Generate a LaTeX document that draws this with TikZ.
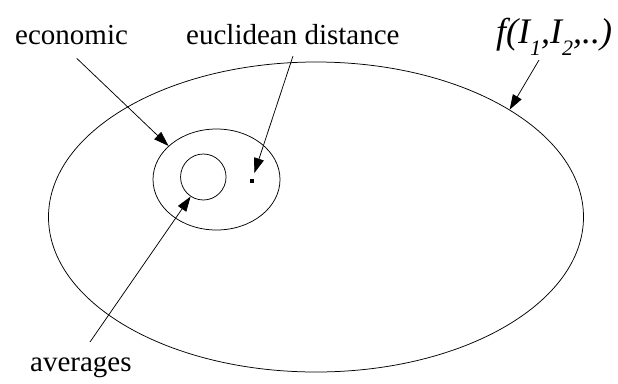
\documentclass[tikz,border=0pt]{standalone}
\usepackage{fontspec}
\setmainfont{Liberation Serif}
\usetikzlibrary{arrows.meta,shapes.geometric}
\begin{document}
\begin{tikzpicture}[x=1pt,y=-1pt,
  ring/.style={ellipse,draw,line width=0.75pt,inner sep=0pt},
  lbl/.style={inner sep=0pt,anchor=base west,font=\fontsize{29}{31}\selectfont},
  pointer/.style={line width=0.75pt,-{Triangle[length=15pt,width=10pt]}}]
\useasboundingbox (0,0) rectangle (618,383);
\node[ring,minimum width=535pt,minimum height=310pt] (outer) at (316,217) {};
\node[ring,minimum width=127pt,minimum height=101pt] (mid) at (216.5,179.5) {};
\node[ring,minimum width=45.5pt,minimum height=46pt] (inner) at (203.3,177) {};
\node[fill,inner sep=0pt,minimum size=4pt] (dot) at (251.7,181) {};
\node[lbl] (econ) at (15,44) {economic};
\node[lbl] (eucl) at (186,44) {euclidean distance};
\node[lbl] (avg) at (30,371) {averages};
\node[inner sep=0pt,anchor=base west,font=\fontsize{36}{38}\selectfont\itshape] (func) at (496,43)
  {f(I\raisebox{-0.35em}{\fontsize{22}{24}\selectfont 1},I\raisebox{-0.35em}{\fontsize{22}{24}\selectfont 2},..)};
\coordinate (econs) at (76.7,58.3);
\coordinate (eucls) at (293,56);
\coordinate (avgs) at (90,342);
\coordinate (funcs) at (539,60);
\draw[pointer] (econs) -- (mid.145);
\draw[pointer,shorten >=6pt] (eucls) -- (dot);
\draw[pointer] (avgs) -- (inner.237);
\draw[pointer] (funcs) -- (outer.29);
\end{tikzpicture}
\end{document}
